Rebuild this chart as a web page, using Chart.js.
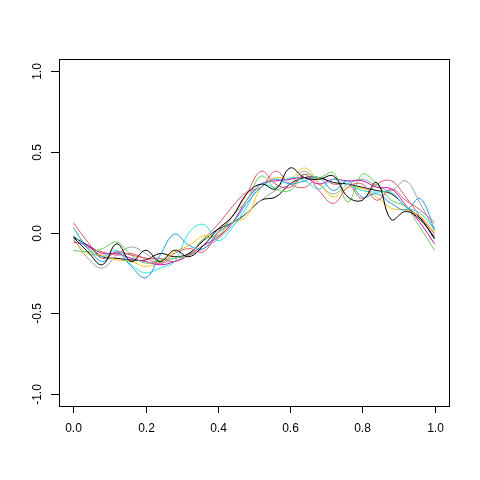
<!DOCTYPE html>
<html>
<head>
<meta charset="utf-8">
<script src="https://cdn.jsdelivr.net/npm/chart.js@4"></script>
<style>
  html, body { margin: 0; padding: 0; background: #fff; }
  #wrap { width: 480px; height: 480px; }
</style>
</head>
<body>
<div id="wrap"><canvas id="myChart" width="480" height="480"></canvas></div>
<script>
// grid of x positions (0 .. 1 step 0.04)
const xs = [0, 0.04, 0.08, 0.12, 0.16, 0.2, 0.24, 0.28, 0.32, 0.36, 0.4, 0.44, 0.48,
  0.52, 0.56, 0.6, 0.64, 0.68, 0.72, 0.76, 0.8, 0.84, 0.88, 0.92, 0.96, 1.0];

const xTicks = [0, 0.2, 0.4, 0.6, 0.8, 1.0];
const xTickLabels = ["0.0", "0.2", "0.4", "0.6", "0.8", "1.0"];
const yTicks = [-1, -0.5, 0, 0.5, 1];
const yTickLabels = ["-1.0", "-0.5", "0.0", "0.5", "1.0"];

// curve values
const black1 = [-0.03, -0.12, -0.20, -0.07, -0.18, -0.11, -0.18, -0.11, -0.15, -0.08, 0.02, 0.10, 0.24,
  0.30, 0.27, 0.40, 0.34, 0.33, 0.35, 0.22, 0.20, 0.31, 0.08, 0.13, 0.08, -0.03];
const red1 = [0.06, -0.06, -0.16, -0.12, -0.14, -0.16, -0.19, -0.13, -0.10, -0.12, 0.00, 0.10, 0.24,
  0.38, 0.30, 0.28, 0.36, 0.26, 0.18, 0.28, 0.30, 0.20, 0.27, 0.20, 0.14, 0.06];
const green1 = [-0.11, -0.12, -0.10, -0.06, -0.14, -0.19, -0.17, -0.16, -0.14, -0.04, -0.02, 0.10, 0.20,
  0.35, 0.27, 0.26, 0.36, 0.34, 0.37, 0.19, 0.36, 0.30, 0.20, 0.16, 0.03, -0.11];
const blue1 = [-0.02, -0.10, -0.18, -0.12, -0.21, -0.28, -0.14, -0.01, -0.08, -0.10, 0.00, 0.06, 0.18,
  0.28, 0.33, 0.30, 0.32, 0.34, 0.26, 0.32, 0.22, 0.24, 0.18, 0.14, 0.21, 0.02];
const cyan1 = [0.03, -0.10, -0.15, -0.11, -0.20, -0.25, -0.22, -0.18, 0.00, 0.05, -0.05, 0.03, 0.16,
  0.30, 0.28, 0.34, 0.32, 0.27, 0.33, 0.30, 0.26, 0.25, 0.25, 0.16, 0.12, 0.02];
const magenta1 = [-0.06, -0.08, -0.13, -0.13, -0.16, -0.18, -0.20, -0.18, -0.14, -0.08, -0.03, 0.06, 0.20,
  0.30, 0.32, 0.33, 0.34, 0.30, 0.33, 0.32, 0.32, 0.28, 0.27, 0.17, 0.06, -0.07];
const yellow1 = [-0.05, -0.13, -0.14, -0.17, -0.18, -0.21, -0.18, -0.12, -0.08, -0.02, -0.02, 0.06, 0.10,
  0.28, 0.34, 0.33, 0.40, 0.31, 0.22, 0.28, 0.27, 0.22, 0.15, 0.14, 0.10, 0.00];
const gray1 = [-0.04, -0.16, -0.22, -0.14, -0.09, -0.13, -0.19, -0.16, -0.14, -0.10, -0.04, 0.04, 0.12,
  0.20, 0.26, 0.30, 0.38, 0.30, 0.24, 0.30, 0.33, 0.29, 0.26, 0.32, 0.18, 0.01];
const black2 = [-0.03, -0.08, -0.15, -0.16, -0.17, -0.17, -0.13, -0.15, -0.13, -0.05, 0.02, 0.06, 0.12,
  0.20, 0.22, 0.30, 0.34, 0.34, 0.31, 0.30, 0.28, 0.26, 0.24, 0.16, 0.09, -0.04];
const red2 = [0.03, -0.09, -0.12, -0.14, -0.13, -0.16, -0.16, -0.18, -0.13, -0.04, 0.05, 0.16, 0.25,
  0.28, 0.38, 0.30, 0.28, 0.34, 0.30, 0.30, 0.21, 0.30, 0.32, 0.22, 0.10, -0.01];

const series = [black1, red1, green1, blue1, cyan1, magenta1, yellow1, gray1, black2, red2];
const colors = ["#000000", "#DF536B", "#61D04F", "#2297E6", "#28E2E5", "#CD0BBC", "#F5C710", "#9E9E9E",
  "#000000", "#DF536B"];

const datasets = series.map((vals, i) => ({
  data: vals.map((v, j) => ({ x: xs[j], y: v })),
  borderColor: colors[i],
  borderWidth: 1,
  pointRadius: 0,
  tension: 0.4,
  fill: false,
}));

// box, ticks and labels, R style
const axesPlugin = {
  id: "rAxes",
  afterDraw(chart) {
    const { ctx, chartArea: a, scales } = chart;
    ctx.save();
    ctx.strokeStyle = "#000";
    ctx.lineWidth = 1;
    ctx.strokeRect(Math.round(a.left) + 0.5, Math.round(a.top) + 0.5,
      Math.round(a.right - a.left), Math.round(a.bottom - a.top));
    ctx.fillStyle = "#000";
    ctx.font = "12px 'Liberation Sans', Arial, sans-serif";
    xTicks.forEach((t, i) => {
      const px = Math.round(scales.x.getPixelForValue(t)) + 0.5;
      ctx.beginPath();
      ctx.moveTo(px, a.bottom);
      ctx.lineTo(px, a.bottom + 7);
      ctx.stroke();
      ctx.textAlign = "center";
      ctx.textBaseline = "middle";
      ctx.fillText(xTickLabels[i], px, 429);
    });
    yTicks.forEach((t, i) => {
      const py = Math.round(scales.y.getPixelForValue(t)) + 0.5;
      ctx.beginPath();
      ctx.moveTo(a.left, py);
      ctx.lineTo(a.left - 8, py);
      ctx.stroke();
      ctx.save();
      ctx.translate(38, py);
      ctx.rotate(-Math.PI / 2);
      ctx.textAlign = "center";
      ctx.textBaseline = "middle";
      ctx.fillText(yTickLabels[i], 0, 0);
      ctx.restore();
    });
    ctx.restore();
  },
};

new Chart(document.getElementById("myChart"), {
  type: "line",
  data: { datasets: datasets },
  options: {
    responsive: false,
    animation: false,
    layout: { padding: { left: 59, right: 31, top: 59, bottom: 74 } },
    plugins: {
      legend: { display: false },
      tooltip: { enabled: false },
    },
    scales: {
      x: { type: "linear", min: -0.04, max: 1.04, display: false },
      y: { type: "linear", min: -1.075, max: 1.075, display: false },
    },
  },
  plugins: [axesPlugin],
});
</script>
</body>
</html>
